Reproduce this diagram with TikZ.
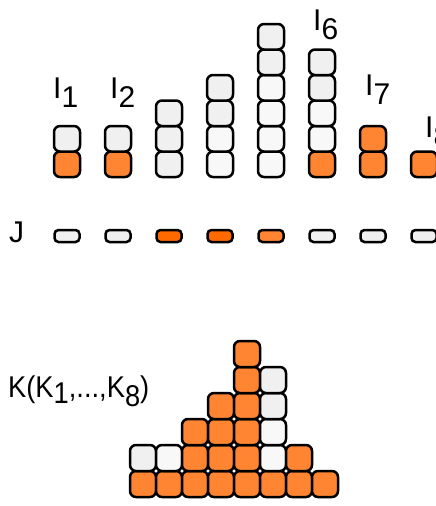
\documentclass[tikz,border=0pt]{standalone}
\usepackage{fontspec}
\setmainfont{Liberation Sans}
\usepackage{tikz}
\definecolor{korange}{HTML}{FF8533}
\definecolor{kdark}{HTML}{FF6A00}
\definecolor{kgrayA}{HTML}{F0F0F0}
\definecolor{kgrayB}{HTML}{F8F8F8}
\newcommand{\lowsub}[2][0.33em]{\raisebox{-#1}{#2}}
\tikzset{
  cell/.style={draw=black, line width=2.5pt, rounded corners=6pt, inner sep=0pt,
    minimum width=26pt, minimum height=25.5pt},
  kcell/.style={cell, minimum width=26pt, minimum height=26pt},
  jcell/.style={draw=black, line width=2.5pt, rounded corners=4pt, inner sep=0pt,
    minimum width=25pt, minimum height=12pt},
  lbl/.style={font=\fontsize{30}{36}\selectfont, inner sep=0pt, anchor=base west}
}
\begin{document}
\begin{tikzpicture}[x=1pt, y=-1pt]
\useasboundingbox (0,0) rectangle (436,506);
% top stacks I_1 ... I_8
\foreach \c/\cols in {1/{korange,kgrayA}, 2/{korange,kgrayA},
    3/{kgrayA,kgrayA,kgrayA}, 4/{kgrayB,kgrayB,kgrayA,kgrayA},
    5/{kgrayB,kgrayB,kgrayB,kgrayB,kgrayA,kgrayA},
    6/{korange,kgrayB,kgrayB,kgrayA,kgrayA}, 7/{korange,korange}, 8/{korange}} {
  \foreach \f [count=\r] in \cols {
    \node[cell, fill=\f] (i\c-\r) at ({67+51*(\c-1)}, {177-25.5*(\r-0.5)}) {};
  }
}
\node[lbl] (li1) at (53,98) {I\lowsub{1}};
\node[lbl] (li2) at (110,98) {I\lowsub{2}};
\node[lbl] (li6) at (313,30) {I\lowsub{6}};
\node[lbl] (li7) at (365,95) {I\lowsub{7}};
\node[lbl] (li8) at (425,137) {I\lowsub{8}};
% row J
\node[lbl] (lj) at (9,242) {J};
\foreach \c/\f in {1/kgrayA, 2/kgrayA, 3/kdark, 4/kdark, 5/korange,
    6/kgrayA, 7/kgrayA, 8/kgrayA} {
  \node[jcell, fill=\f] (j\c) at ({67+51*(\c-1)}, 236) {};
}
% stacked K
\node[lbl] (lk) at (8,397)
  {\scalebox{0.91}[1]{K(K\lowsub[0.2em]{1},...,K\lowsub{8})}};
\foreach \c/\cols in {1/{korange,kgrayA}, 2/{korange,kgrayB},
    3/{korange,korange,korange}, 4/{korange,korange,korange,korange},
    5/{korange,korange,korange,korange,korange,korange},
    6/{korange,kgrayB,kgrayB,kgrayA,kgrayA}, 7/{korange,korange}, 8/{korange}} {
  \foreach \f [count=\r] in \cols {
    \node[kcell, fill=\f] (k\c-\r) at ({143+26*(\c-1)}, {484-26*(\r-1)}) {};
  }
}
\end{tikzpicture}
\end{document}
